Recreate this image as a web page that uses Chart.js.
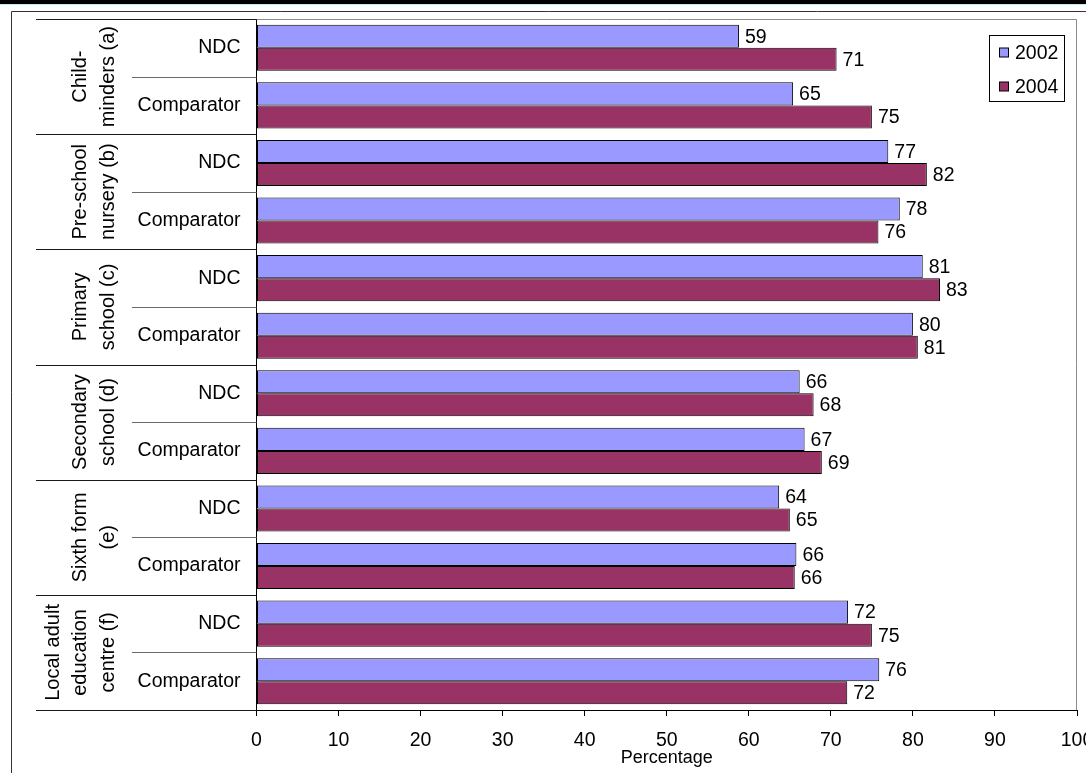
<!DOCTYPE html>
<html><head><meta charset="utf-8">
<script src="https://cdn.jsdelivr.net/npm/chart.js@4.4.1/dist/chart.umd.min.js"></script>
<style>html,body{margin:0;padding:0;background:#fff;overflow:hidden}</style>
</head><body>
<canvas id="c" width="1086" height="773"></canvas>
<script>
const groupLabels = [
  ["Child-", "minders (a)"],
  ["Pre-school", "nursery (b)"],
  ["Primary", "school (c)"],
  ["Secondary", "school (d)"],
  ["Sixth form", "(e)"],
  ["Local adult", "education", "centre (f)"]
];
const rowLabels = ["NDC","Comparator","NDC","Comparator","NDC","Comparator","NDC","Comparator","NDC","Comparator","NDC","Comparator"];
const seriesNames = ["2002", "2004"];
const values2002 = [58.8, 65.4, 77.0, 78.4, 81.2, 80.0, 66.2, 66.8, 63.7, 65.8, 72.1, 75.9];
const values2004 = [70.7, 75.0, 81.7, 75.8, 83.3, 80.6, 67.9, 68.9, 65.0, 65.6, 75.0, 72.0];
const xTicks = [0, 10, 20, 30, 40, 50, 60, 70, 80, 90, 100];

const FONT = "'Liberation Sans', Arial, sans-serif";
const colors = ["#9999FF", "#993366"];

const decor = {
  id: 'decor',
  beforeDraw(chart) {
    const ctx = chart.ctx;
    ctx.save();
    ctx.fillStyle = '#fff';
    ctx.fillRect(0, 0, chart.width, chart.height);
    ctx.fillStyle = '#000';
    ctx.fillRect(0, 0, chart.width, 4);
    ctx.fillStyle = '#bfeff5';
    ctx.fillRect(0, 4, chart.width, 1);
    ctx.strokeStyle = '#333';
    ctx.lineWidth = 1;
    ctx.beginPath();
    ctx.moveTo(11.5, chart.height);
    ctx.lineTo(11.5, 11.5);
    ctx.lineTo(chart.width, 11.5);
    ctx.stroke();
    ctx.restore();
  },
  afterDatasetsDraw(chart) {
    const ctx = chart.ctx;
    ctx.save();
    ctx.font = "19.5px " + FONT;
    ctx.fillStyle = '#000';
    ctx.textAlign = 'left';
    ctx.textBaseline = 'middle';
    chart.data.datasets.forEach((ds, di) => {
      const meta = chart.getDatasetMeta(di);
      meta.data.forEach((bar, i) => {
        const p = bar.getProps(['x', 'y'], true);
        ctx.fillText(String(Math.round(ds.data[i])), p.x + 6, p.y + 1);
      });
    });
    ctx.restore();
  },
  afterDraw(chart) {
    const ctx = chart.ctx;
    const ys = chart.scales.y;
    const ca = chart.chartArea;
    const n = rowLabels.length;
    const bounds = [];
    for (let k = 0; k <= n; k++) {
      if (k === 0) bounds.push(ys.top);
      else if (k === n) bounds.push(ys.bottom);
      else bounds.push((ys.getPixelForValue(k - 1) + ys.getPixelForValue(k)) / 2);
    }
    ctx.save();
    ctx.lineWidth = 1;
    ctx.strokeStyle = '#8c8c8c';
    ctx.beginPath();
    ctx.moveTo(ca.left, Math.round(ca.top) + 0.5);
    ctx.lineTo(Math.round(ca.right) - 0.5, Math.round(ca.top) + 0.5);
    ctx.lineTo(Math.round(ca.right) - 0.5, ca.bottom);
    ctx.stroke();
    bounds.forEach((b, k) => {
      const y = Math.round(b) + 0.5;
      ctx.strokeStyle = (k % 2 === 0) ? '#1a1a1a' : '#6a6a6a';
      ctx.beginPath();
      ctx.moveTo(k % 2 === 0 ? 36 : 132, y);
      ctx.lineTo(ca.left, y);
      ctx.stroke();
    });
    ctx.font = "20px " + FONT;
    ctx.fillStyle = '#000';
    ctx.textAlign = 'center';
    ctx.textBaseline = 'middle';
    groupLabels.forEach((lines, g) => {
      const cy = (bounds[2 * g] + bounds[2 * g + 2]) / 2;
      lines.forEach((t, i) => {
        const x = 108 - (lines.length - 1 - i) * 27.5;
        ctx.save();
        ctx.translate(x, cy);
        ctx.rotate(-Math.PI / 2);
        ctx.fillText(t, 0, 0);
        ctx.restore();
      });
    });
    ctx.fillStyle = '#fff';
    ctx.fillRect(989.5, 35.5, 75, 66);
    ctx.strokeStyle = '#000';
    ctx.strokeRect(989.5, 35.5, 75, 66);
    const ly = [52.5, 86.5];
    ctx.font = "19.5px " + FONT;
    ctx.textAlign = 'left';
    ctx.textBaseline = 'middle';
    chart.data.datasets.forEach((ds, i) => {
      ctx.fillStyle = ds.backgroundColor;
      ctx.fillRect(999.5, ly[i] - 4.5, 9, 9);
      ctx.strokeStyle = '#000';
      ctx.strokeRect(999.5, ly[i] - 4.5, 9, 9);
      ctx.fillStyle = '#000';
      ctx.fillText(ds.label, 1015, ly[i] + 1);
    });
    ctx.restore();
  }
};

new Chart(document.getElementById('c'), {
  type: 'bar',
  data: {
    labels: rowLabels,
    datasets: [
      { label: seriesNames[0], data: values2002, backgroundColor: colors[0], borderColor: '#000', borderWidth: 1, borderSkipped: false },
      { label: seriesNames[1], data: values2004, backgroundColor: colors[1], borderColor: '#000', borderWidth: 1, borderSkipped: false }
    ]
  },
  options: {
    indexAxis: 'y',
    responsive: false,
    animation: false,
    devicePixelRatio: 1,
    categoryPercentage: 0.8,
    barPercentage: 1.0,
    layout: { padding: { left: 0, right: 9, top: 19, bottom: 0 } },
    plugins: { legend: { display: false }, tooltip: { enabled: false } },
    scales: {
      y: {
        type: 'category',
        offset: true,
        grid: { display: true, drawOnChartArea: false, drawTicks: false },
        border: { display: true, color: '#000', width: 1 },
        ticks: { color: '#000', font: { family: FONT, size: 19.5 }, padding: 16, autoSkip: false },
        afterFit(s) { s.width = 256.5; s.paddingTop = 0; s.paddingBottom = 0; }
      },
      x: {
        min: 0, max: 100,
        afterBuildTicks(s) { s.ticks = xTicks.map(v => ({ value: v })); },
        grid: { display: true, drawOnChartArea: false, drawTicks: true, tickLength: 6, tickColor: '#000' },
        border: { display: true, color: '#000', width: 1 },
        ticks: { color: '#000', font: { family: FONT, size: 19.5 }, padding: 13, maxRotation: 0, autoSkip: false },
        title: { display: true, text: 'Percentage', color: '#000', font: { family: FONT, size: 18 }, padding: { top: 0, bottom: 4 } },
        afterFit(s) { s.height = 63; s.paddingLeft = 0; s.paddingRight = 0; }
      }
    }
  },
  plugins: [decor]
});
</script>
</body></html>
